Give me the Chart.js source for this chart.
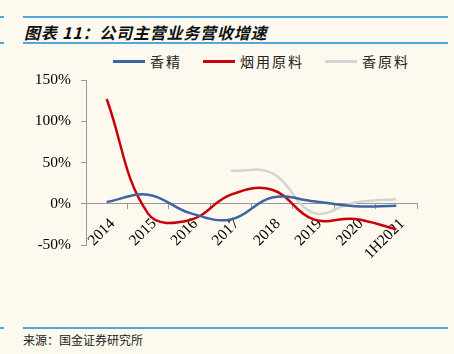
<!DOCTYPE html>
<html><head><meta charset="utf-8">
<script src="https://cdn.jsdelivr.net/npm/chart.js@4"></script>
<style>
html,body{margin:0;padding:0;background:#fdf9ef;}
body{width:454px;height:354px;position:relative;overflow:hidden;font-family:"Noto Sans CJK SC",sans-serif;}
.hl{position:absolute;height:2px;background:#4fa8dc;}
#title{position:absolute;left:24px;top:20px;font-size:16px;font-weight:bold;font-style:italic;color:#111;letter-spacing:0.8px;white-space:nowrap;}
#src{position:absolute;left:23px;top:331px;font-size:12px;color:#222;white-space:nowrap;}
#legend{position:absolute;top:51px;left:0;width:454px;height:20px;}
.li{position:absolute;top:0;display:flex;align-items:center;font-size:14px;color:#222;white-space:nowrap;letter-spacing:2px;}
.li span.sw{display:inline-block;width:32px;height:3px;margin-right:5px;}
canvas{position:absolute;left:0;top:0;}
</style></head>
<body>
<div class="hl" style="left:23px;top:16px;width:425px;"></div>
<div class="hl" style="left:0;top:16px;width:4px;"></div>
<div id="title">图表 11：公司主营业务营收增速</div>
<div class="hl" style="left:23px;top:42px;width:425px;"></div>
<div class="hl" style="left:0;top:42px;width:4px;"></div>
<div id="legend"></div>
<div class="hl" style="left:23px;top:327px;width:425px;"></div>
<div class="hl" style="left:0;top:327px;width:4px;"></div>
<div id="src">来源：国金证券研究所</div>
<canvas id="c" width="454" height="354"></canvas>
<script>
const categories = ["2014","2015","2016","2017","2018","2019","2020","1H2021"];
const seriesNames = ["香精","烟用原料","香原料"];
const flavor = [2, 11, -11, -19, 7.5, 3, -3, -2.5];
const tobacco = [127, -12, -20, 11, 17, -19, -18.5, -31];
const spice = [null, null, null, 40, 37, -11, 1.5, 5.5];
const yTicks = [-50, 0, 50, 100, 150];
const colors = ["#3d659f", "#c8000a", "#d4d4d4"];

const legendX = [113, 203, 325];
const lg = document.getElementById('legend');
seriesNames.forEach((n,i)=>{
  const d=document.createElement('div');d.className='li';d.style.left=legendX[i]+'px';
  d.innerHTML='<span class="sw" style="background:'+colors[i]+'"></span>'+n;
  lg.appendChild(d);
});

const serif = "'Liberation Serif','Times New Roman',serif";
new Chart(document.getElementById('c'), {
  type:'line',
  data:{labels:categories,datasets:[
    {label:seriesNames[0],data:flavor,borderColor:colors[0],borderWidth:2.5,pointRadius:0,tension:0.4,fill:false},
    {label:seriesNames[1],data:tobacco,borderColor:colors[1],borderWidth:2.5,pointRadius:0,tension:0.4,fill:false},
    {label:seriesNames[2],data:spice,borderColor:colors[2],borderWidth:2.5,pointRadius:0,tension:0.4,fill:false}
  ]},
  options:{
    responsive:false,animation:false,
    layout:{padding:{left:0,right:37,top:80,bottom:109}},
    plugins:{legend:{display:false},tooltip:{enabled:false}},
    scales:{
      x:{type:'category',position:{y:0},offset:true,
        grid:{display:true,drawOnChartArea:false,offset:true,tickLength:5,color:'#999'},
        border:{color:'#999',width:1},
        ticks:{minRotation:45,maxRotation:45,autoSkip:false,font:{family:serif,size:15.5},color:'#000',padding:6,labelOffset:6}
      },
      y:{min:-50,max:150,afterBuildTicks:(s)=>{s.ticks=yTicks.map(v=>({value:v}));},
        afterFit:(s)=>{s.width=86;},
        grid:{display:true,drawOnChartArea:false,tickLength:5,color:'#999'},
        border:{color:'#999',width:1},
        ticks:{font:{family:serif,size:15.5},color:'#000',padding:10,callback:(v)=>v+'%'}
      }
    }
  }
});
</script>
</body></html>
